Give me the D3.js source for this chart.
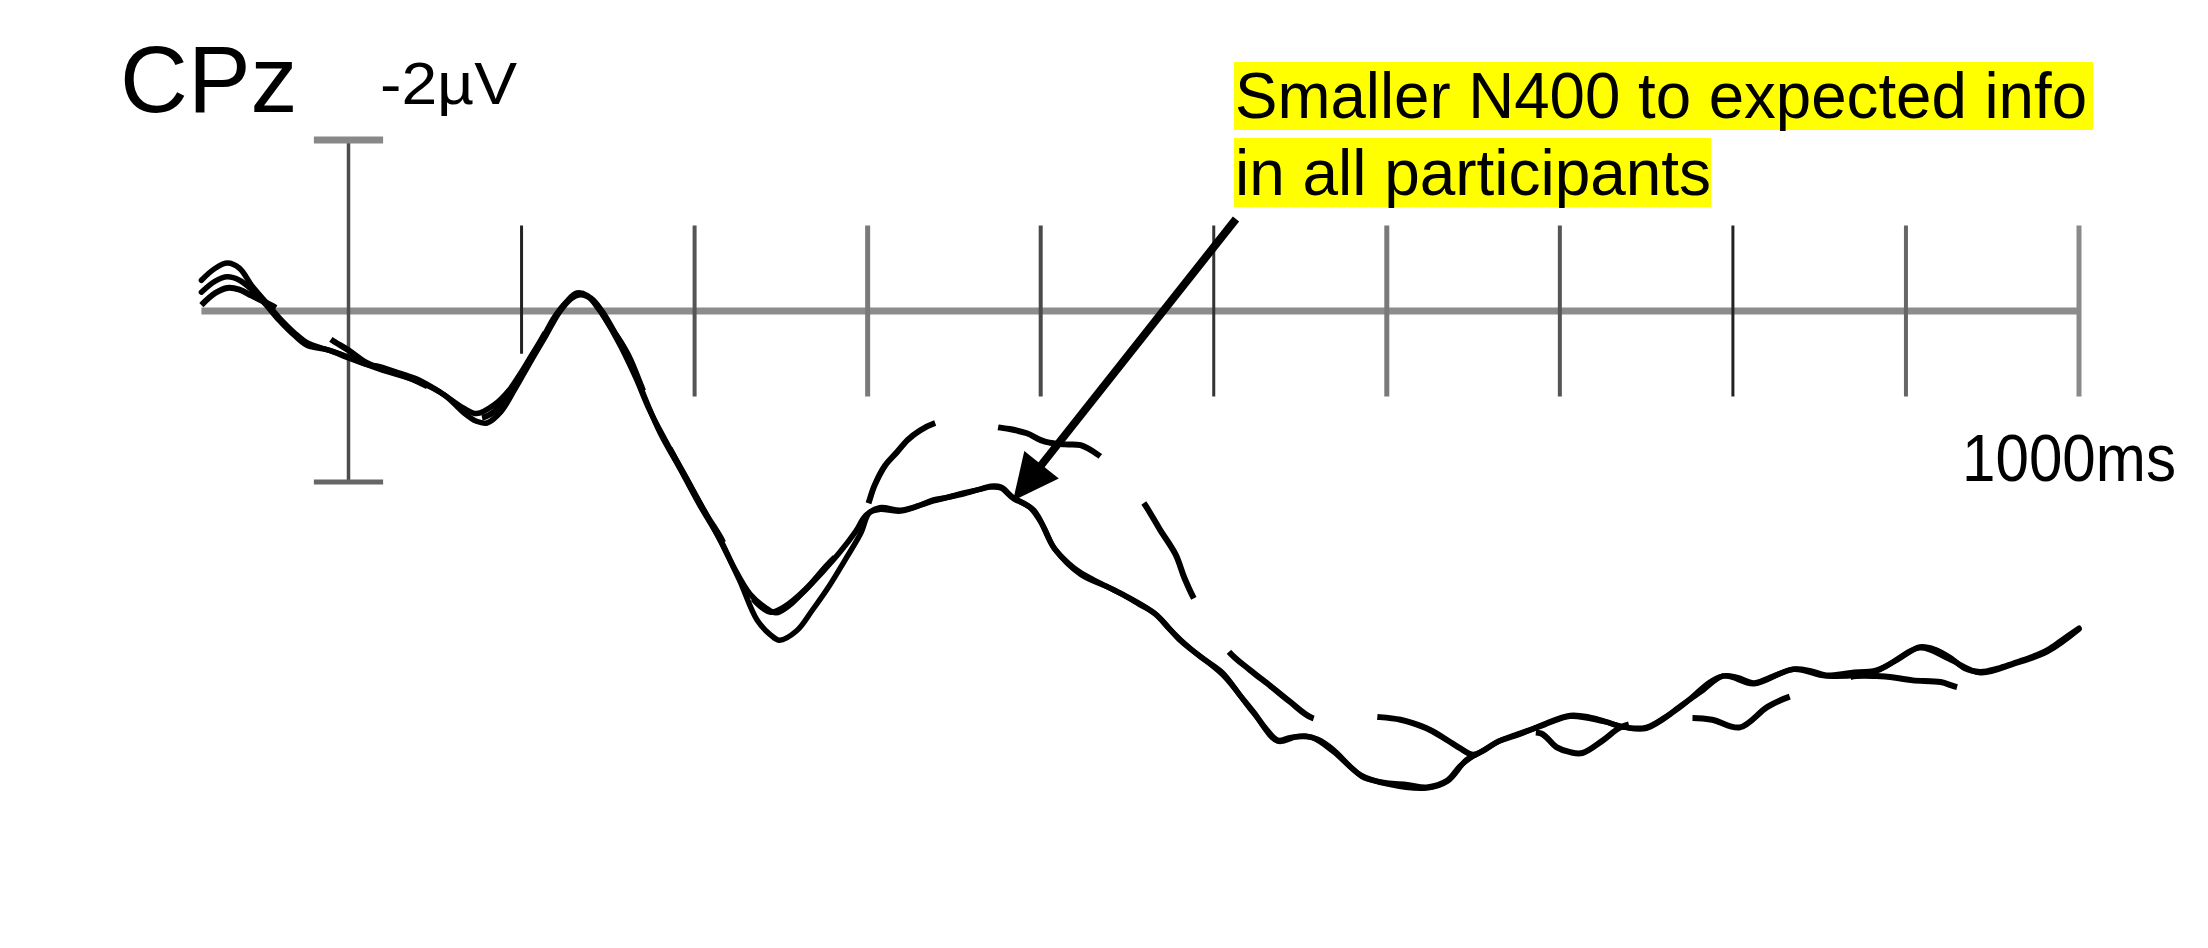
<!DOCTYPE html>
<html><head><meta charset="utf-8">
<script src="https://cdn.jsdelivr.net/npm/d3@7"></script>
<style>
html,body{margin:0;padding:0;background:#fff;}
svg{display:block;}
text{font-family:"Liberation Sans",Arial,Helvetica,sans-serif;fill:#000;}
</style>
</head><body>
<svg id="chart" width="2208" height="948"></svg>
<script>
// ---------- data ----------
const channelLabel = "CPz";
const scaleLabel = "-2µV";
const timeEndLabel = "1000ms";
const annotationLines = ["Smaller N400 to expected info", "in all participants"];
const tickTimes = [100, 200, 300, 400, 500, 600, 700, 800, 900, 1000];
const scaleBarRange = [-2, 2];     // µV, negative up
const baselineRange = [-85, 1000]; // ms
const arrowTarget = [384, 2.22];   // [ms, µV]

// [ms, µV]
const solidA = [[-85,-0.36],[-77,-0.50],[-70,-0.56],[-63,-0.50],[-56,-0.30],[-48,-0.11],[-40,0.08],[-31,0.26],[-24,0.37],[-16,0.43],[-8,0.48],[0,0.54],[10,0.62],[18,0.65],[30,0.73],[41,0.81],[53,0.95],[66,1.13],[74,1.20],[84,1.10],[93,0.92],[100,0.71],[106,0.51],[112,0.32],[119,0.07],[126,-0.11],[132,-0.21],[138,-0.18],[145,-0.01],[152,0.20],[159,0.42],[166,0.75],[173,1.10],[180,1.42],[192,1.86],[203,2.27],[215,2.68],[223,3.01],[232,3.31],[241,3.47],[247,3.53],[255,3.44],[264,3.26],[274,3.05],[284,2.82],[293,2.58],[299,2.39],[307,2.30],[319,2.33],[329,2.28],[338,2.21],[346,2.18],[355,2.13],[364,2.09],[371,2.05],[377,2.06],[384,2.18],[394,2.30],[401,2.50],[408,2.78],[416,2.95],[423,3.06],[434,3.18],[446,3.30],[457,3.43],[466,3.54],[474,3.71],[481,3.85],[492,4.04],[505,4.23],[515,4.49],[523,4.69],[530,4.88],[537,5.02],[544,4.99],[553,4.97],[560,5.01],[569,5.13],[579,5.33],[587,5.46],[600,5.52],[612,5.54],[623,5.57],[635,5.49],[642,5.33],[648,5.23],[657,5.13],[665,5.03],[674,4.97],[683,4.90],[691,4.83],[706,4.73],[717,4.75],[726,4.80],[738,4.87],[750,4.87],[761,4.75],[769,4.63],[781,4.46],[794,4.27],[803,4.29],[812,4.35],[821,4.29],[835,4.19],[845,4.21],[854,4.26],[868,4.23],[883,4.20],[895,4.08],[908,3.93],[917,3.96],[926,4.06],[934,4.18],[943,4.22],[953,4.18],[962,4.12],[972,4.05],[982,3.96],[990,3.85],[1000,3.71]];

const solidB = [[-85,-0.22],[-77,-0.35],[-70,-0.40],[-63,-0.36],[-56,-0.25],[-48,-0.08],[-40,0.11],[-31,0.29],[-24,0.40],[-11,0.46],[0,0.55],[18,0.68],[41,0.83],[56,0.99],[66,1.18],[74,1.29],[80,1.31],[88,1.18],[96,0.92],[105,0.60],[114,0.29],[122,0.01],[129,-0.15],[134,-0.19],[141,-0.13],[148,0.08],[157,0.40],[166,0.78],[174,1.16],[183,1.51],[195,1.95],[206,2.35],[216,2.73],[226,3.15],[236,3.61],[244,3.79],[249,3.85],[259,3.74],[268,3.50],[277,3.24],[287,2.91],[296,2.60],[301,2.36],[307,2.32],[319,2.34],[338,2.22],[355,2.14],[371,2.06],[377,2.07],[384,2.19],[396,2.33],[408,2.78],[423,3.08],[442,3.26],[466,3.54],[481,3.86],[505,4.25],[523,4.70],[537,5.03],[548,4.98],[557,4.99],[569,5.15],[585,5.43],[600,5.53],[623,5.58],[635,5.50],[646,5.25],[654,5.16],[665,5.03],[681,4.91],[691,4.84],[706,4.74],[725,4.80],[738,4.87],[750,4.88],[769,4.64],[794,4.27],[812,4.36],[835,4.19],[854,4.27],[883,4.21],[908,3.94],[924,4.06],[943,4.23],[962,4.13],[982,3.98],[1000,3.72]];

const dashedC = [[-85,-0.07],[-77,-0.21],[-70,-0.27],[-63,-0.25],[-56,-0.18],[-45,-0.07],[-34,0.05],[-22,0.14],[-11,0.32],[0,0.46],[10,0.60],[18,0.67],[30,0.74],[53,0.96],[66,1.15],[75,1.25],[84,1.18],[93,0.95],[102,0.67],[111,0.35],[119,0.08],[127,-0.11],[133,-0.20],[140,-0.15],[147,0.02],[154,0.26],[162,0.53],[169,0.87],[175,1.18],[183,1.51],[195,1.95],[206,2.36],[215,2.65],[226,3.11],[233,3.35],[244,3.52],[252,3.46],[264,3.26],[275,3.01],[287,2.74],[296,2.44],[299,2.33],[304,2.04],[310,1.81],[317,1.65],[323,1.51],[330,1.40],[339,1.31],[348,1.27],[356,1.29],[365,1.31],[375,1.36],[382,1.38],[392,1.43],[400,1.51],[405,1.54],[414,1.56],[423,1.57],[433,1.68],[440,1.80],[449,2.00],[459,2.23],[469,2.56],[478,2.85],[483,3.12],[489,3.38],[498,3.67],[509,3.99],[521,4.20],[533,4.39],[544,4.57],[557,4.76],[570,4.78],[583,4.74],[596,4.75],[608,4.78],[615,4.82],[625,4.90],[635,5.02],[642,5.11],[650,5.19],[658,5.11],[665,5.04],[677,4.95],[689,4.94],[698,5.10],[706,5.16],[713,5.17],[725,5.02],[735,4.87],[746,4.81],[761,4.78],[775,4.76],[788,4.78],[804,4.87],[820,4.63],[833,4.51],[843,4.46],[856,4.35],[871,4.27],[883,4.27],[894,4.29],[904,4.32],[920,4.34],[928,4.39],[938,4.44]];

// ---------- styles ----------
const tickStroke = ["#222","#555","#7a7a7a","#4a4a4a","#333","#7a7a7a","#555","#222","#666","#8a8a8a"];
const tickWidth  = [3, 4, 5, 4, 3, 5, 4, 3, 4, 5];

// ---------- scales ----------
const svg = d3.select("#chart");
const x = d3.scaleLinear().domain([0, 1000]).range([348.5, 2079]);
const y = d3.scaleLinear().domain([-2, 2]).range([140, 482]);

svg.append("rect").attr("width", 2208).attr("height", 948).attr("fill", "#fff");

// baseline
svg.append("line")
  .attr("x1", x(baselineRange[0])).attr("x2", x(baselineRange[1]))
  .attr("y1", y(0)).attr("y2", y(0))
  .attr("stroke", "#8c8c8c").attr("stroke-width", 7);

// time ticks (±1 µV long), first tick shorter
svg.append("g").selectAll("line").data(tickTimes).join("line")
  .attr("x1", d => x(d)).attr("x2", d => x(d))
  .attr("y1", y(-1))
  .attr("y2", (d, i) => i === 0 ? y(0.5) : y(1))
  .attr("stroke", (d, i) => tickStroke[i])
  .attr("stroke-width", (d, i) => tickWidth[i]);

// voltage scale bar at t = 0
svg.append("line")
  .attr("x1", x(0)).attr("x2", x(0))
  .attr("y1", y(scaleBarRange[0])).attr("y2", y(scaleBarRange[1]))
  .attr("stroke", "#4d4d4d").attr("stroke-width", 3.5);
svg.append("line")
  .attr("x1", x(-20)).attr("x2", x(20))
  .attr("y1", y(scaleBarRange[0])).attr("y2", y(scaleBarRange[0]))
  .attr("stroke", "#888").attr("stroke-width", 7);
svg.append("line")
  .attr("x1", x(-20)).attr("x2", x(20))
  .attr("y1", y(scaleBarRange[1])).attr("y2", y(scaleBarRange[1]))
  .attr("stroke", "#666").attr("stroke-width", 5);

// waveforms
const line = d3.line().x(d => x(d[0])).y(d => y(d[1])).curve(d3.curveCatmullRom.alpha(0.5));
[solidB, solidA].forEach(s => {
  svg.append("path").datum(s).attr("d", line)
    .attr("fill", "none").attr("stroke", "#000").attr("stroke-width", 5.5)
    .attr("stroke-linejoin", "round").attr("stroke-linecap", "round");
});
const dashPath = svg.append("path").datum(dashedC).attr("d", line)
  .attr("fill", "none").attr("stroke", "#000").attr("stroke-width", 6)
  .attr("stroke-linecap", "butt");
// align dash pattern so a dash begins at 375 ms
(function () {
  const node = dashPath.node();
  const total = node.getTotalLength();
  const targetX = x(375);
  let lo = 0, hi = total;
  for (let k = 0; k < 40; k++) {
    const mid = (lo + hi) / 2;
    if (node.getPointAtLength(mid).x < targetX) lo = mid; else hi = mid;
  }
  const dash = 108, gap = 64, P = dash + gap;
  const off = (P - (lo % P)) % P;
  dashPath.attr("stroke-dasharray", dash + "," + gap).attr("stroke-dashoffset", off);
})();

// labels
svg.append("text").attr("x", 120).attr("y", 112).attr("font-size", 94).text(channelLabel);
svg.append("text").attr("x", 380).attr("y", 104).attr("font-size", 60)
  .attr("textLength", 137).attr("lengthAdjust", "spacingAndGlyphs").text(scaleLabel);
svg.append("text").attr("x", 1962).attr("y", 481).attr("font-size", 66)
  .attr("textLength", 214).attr("lengthAdjust", "spacingAndGlyphs").text(timeEndLabel);

// annotation
const ann = svg.append("g");
ann.append("rect").attr("x", 1234).attr("y", 62).attr("width", 859).attr("height", 68).attr("fill", "#ffff00");
ann.append("rect").attr("x", 1234).attr("y", 138).attr("width", 477).attr("height", 69).attr("fill", "#ffff00");
ann.append("text").attr("x", 1235).attr("y", 118).attr("font-size", 64)
  .attr("textLength", 852).attr("lengthAdjust", "spacingAndGlyphs").text(annotationLines[0]);
ann.append("text").attr("x", 1235).attr("y", 195).attr("font-size", 64)
  .attr("textLength", 476).attr("lengthAdjust", "spacingAndGlyphs").text(annotationLines[1]);

// arrow
const tip = [x(arrowTarget[0]), y(arrowTarget[1])];
const start = [1236, 219];
const dx = tip[0] - start[0], dy = tip[1] - start[1];
const len = Math.hypot(dx, dy), ux = dx / len, uy = dy / len;
const headLen = 46, headHalf = 22;
const base = [tip[0] - ux * headLen, tip[1] - uy * headLen];
ann.append("line").attr("x1", start[0]).attr("y1", start[1])
  .attr("x2", base[0] + ux * 4).attr("y2", base[1] + uy * 4)
  .attr("stroke", "#000").attr("stroke-width", 8);
ann.append("path")
  .attr("d", `M${tip[0]},${tip[1]} L${base[0] - uy * headHalf},${base[1] + ux * headHalf} L${base[0] + uy * headHalf},${base[1] - ux * headHalf} Z`)
  .attr("fill", "#000");
</script>
</body></html>
